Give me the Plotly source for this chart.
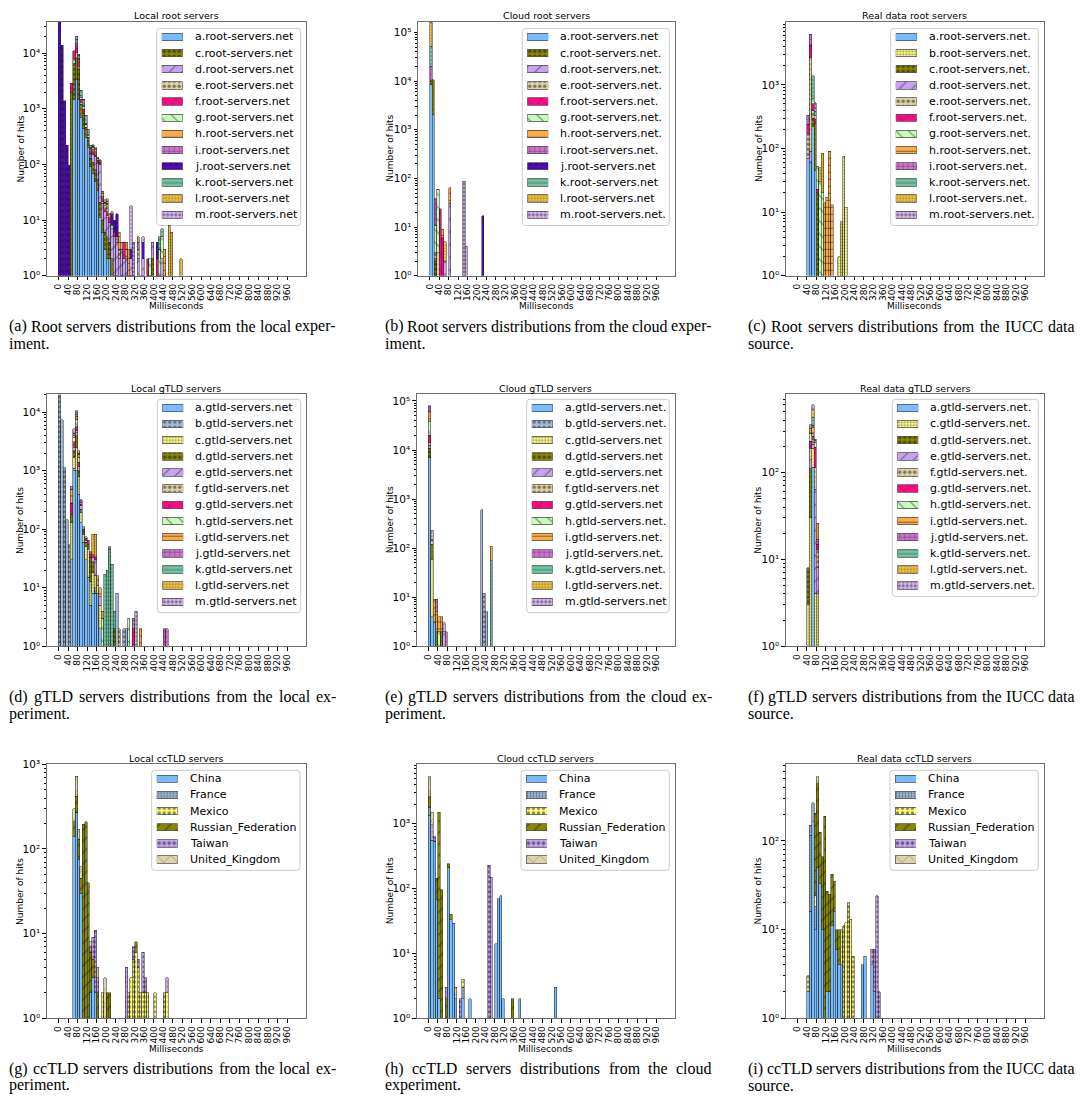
import plotly.graph_objects as go

FIG_W, FIG_H = 1083, 1107
BIN_W = 10
X_TICKS = list(range(0, 1000, 40))
X_RANGE = [-49.5, 1039.5]

# ---------------- data: hits per 10 ms bin (key = bin start in ms) ----------------
# (a) Local root servers
LR_A = {60: 1500, 70: 3300, 80: 1500, 90: 700, 100: 450, 110: 300, 120: 200, 130: 90, 140: 70, 150: 50,
        160: 34, 170: 11, 180: 6, 190: 3, 200: 2, 210: 2}
LR_C = {50: 2000, 60: 5000, 70: 5000, 80: 3500, 90: 500, 100: 300, 110: 100, 120: 60, 130: 40, 140: 40,
        150: 30, 160: 20, 170: 10, 180: 4, 190: 3, 200: 3, 210: 2, 220: 2, 230: 1, 240: 1, 260: 1, 280: 1,
        300: 1, 350: 1, 390: 2, 420: 1}
LR_D = {120: 10, 130: 20, 140: 40, 150: 60, 160: 50, 170: 80, 180: 10, 190: 8, 200: 6, 210: 5, 220: 5,
        230: 4, 240: 3, 250: 2, 260: 2, 270: 2, 280: 1, 300: 1, 330: 2, 350: 1, 370: 1, 390: 2, 410: 1, 430: 2}
LR_E = {60: 1500, 70: 2000, 80: 800, 90: 100, 100: 80, 110: 30, 120: 20, 130: 10, 140: 8, 150: 6, 160: 4,
        170: 3, 180: 2, 200: 1, 220: 1, 250: 1, 290: 1, 330: 1, 380: 1}
LR_F = {50: 900, 60: 3000, 70: 4000, 80: 1500, 90: 200, 100: 150, 110: 40, 120: 20, 130: 15, 140: 20,
        150: 10, 160: 8, 170: 5, 180: 3, 190: 2, 200: 2, 210: 2, 230: 1, 270: 2, 370: 1, 410: 1}
LR_G = {70: 500, 80: 300, 90: 100, 100: 100, 110: 60, 120: 20, 130: 10, 140: 10, 150: 6, 160: 4, 170: 3,
        180: 2, 190: 2, 200: 2, 380: 1, 420: 2, 430: 3, 440: 1}
LR_H = {130: 10, 140: 15, 150: 20, 160: 10, 170: 8, 180: 3, 190: 2, 200: 3, 210: 2, 250: 2, 260: 1, 280: 1,
        290: 1, 310: 1, 440: 2}
LR_I = {70: 2500, 80: 500, 90: 100, 100: 60, 110: 20, 120: 10, 130: 5, 140: 5, 150: 3, 170: 2, 200: 1,
        240: 1, 330: 1}
LR_J = {0: 36000, 10: 14000, 20: 1400, 30: 220, 40: 96, 140: 10, 190: 1, 220: 5, 230: 4, 240: 8, 300: 1,
        340: 1, 350: 2, 410: 2}
LR_K = {80: 1000, 90: 400, 100: 300, 110: 200, 120: 80, 130: 20, 140: 10, 150: 5, 180: 3, 190: 2, 200: 2,
        420: 2, 430: 2}
LR_L = {120: 5, 150: 10, 160: 5, 200: 2, 220: 1, 250: 1, 280: 1, 290: 1, 330: 1, 460: 8, 470: 6, 510: 2}
LR_M = {70: 3000, 80: 400, 90: 50, 100: 30, 110: 10, 300: 15, 310: 3, 350: 1}

# (b) Cloud root servers
CR_A = {0: 8500, 10: 2100}
CR_C = {0: 1500, 10: 8500, 20: 2}
CR_D = {60: 2, 80: 31}
CR_E = {0: 200, 20: 1, 30: 3}
CR_F = {40: 24, 50: 6}
CR_G = {20: 8, 30: 55}
CR_H = {50: 3, 80: 34}
CR_I = {0: 10000, 20: 27, 30: 2}
CR_J = {220: 17}
CR_K = {0: 32000}
CR_L = {0: 110000, 60: 3}
CR_M = {140: 88, 150: 4}

# (c) Real data root servers
RR_A = {40: 70, 50: 60, 60: 220, 70: 45}
RR_B = {170: 2, 180: 7, 190: 75, 200: 12}
RR_C = {60: 80, 70: 200, 80: 20}
RR_D = {50: 30}
RR_E = {40: 100, 50: 2600, 60: 100}
RR_F = {40: 70, 50: 1500, 60: 100, 70: 50, 80: 3}
RR_G = {60: 100, 70: 30, 80: 30, 90: 30, 100: 20}
RR_H = {110: 14, 120: 17, 130: 90, 140: 13}
RR_I = {40: 90, 50: 2000}
RR_K = {60: 800, 70: 50}
RR_L = {90: 20, 100: 64}
RR_M = {70: 150}

# (d) Local gTLD servers
LG_A = {60: 1000, 70: 1000, 80: 400, 90: 130, 100: 60, 110: 30, 120: 15, 130: 5, 140: 8, 150: 8, 160: 8, 170: 2}
LG_B = {0: 20000, 10: 7400, 20: 1130, 30: 145, 40: 54, 50: 30, 60: 100, 150: 2, 180: 1, 240: 8, 270: 2, 280: 2}
LG_C = {50: 100, 60: 600, 70: 1500, 80: 400, 90: 60, 100: 20, 110: 20, 120: 30, 130: 8, 140: 10, 150: 6,
        160: 3, 170: 3}
LG_D = {50: 50, 60: 500, 70: 1500, 80: 200, 90: 30, 100: 10, 110: 10, 120: 10, 130: 20, 140: 10, 230: 2}
LG_E = {60: 300, 70: 500, 80: 200, 90: 30, 110: 5, 140: 5, 150: 15, 170: 2}
LG_F = {60: 200, 70: 300, 250: 2}
LG_G = {50: 100, 60: 400, 70: 800, 80: 200, 90: 20, 100: 5, 110: 5, 120: 10, 130: 5, 140: 4, 150: 3, 310: 2}
LG_H = {60: 600, 70: 2000, 80: 300, 180: 2, 290: 3}
LG_I = {50: 200, 60: 300, 70: 1000, 80: 200, 90: 20, 100: 5, 130: 3, 160: 5, 170: 3, 340: 2}
LG_J = {60: 400, 70: 500, 80: 100, 90: 15, 440: 2, 450: 2}
LG_K = {190: 17, 200: 20, 210: 45, 220: 25, 230: 2}
LG_L = {110: 4, 140: 45, 150: 48, 180: 1}
LG_M = {50: 60, 60: 800, 70: 1400, 80: 200, 90: 15, 100: 10, 210: 5, 310: 1, 320: 4}

# (e) Cloud gTLD servers
CG_A = {0: 7000, 10: 4, 20: 3}
CG_B = {220: 600, 230: 12, 240: 5}
CG_C = {10: 56}
CG_D = {0: 4000, 10: 60, 30: 2, 50: 2}
CG_E = {0: 1500, 60: 2}
CG_F = {0: 1500, 10: 20}
CG_G = {0: 6000, 10: 10}
CG_H = {0: 18000, 40: 2}
CG_I = {0: 23000, 20: 6, 30: 3, 40: 2, 50: 2}
CG_J = {0: 19000, 30: 4, 70: 2}
CG_K = {260: 55}
CG_L = {260: 55}
CG_M = {10: 80, 60: 1}

# (f) Real data gTLD servers
RG_A = {60: 115}
RG_C = {40: 3, 50: 30, 60: 75, 70: 4, 80: 4}
RG_D = {40: 5, 50: 80}
RG_E = {50: 30, 60: 20, 70: 60, 80: 4}
RG_F = {50: 50, 60: 30, 70: 50, 80: 5}
RG_G = {50: 40, 60: 20, 70: 80, 80: 2}
RG_H = {50: 50, 60: 20, 70: 30}
RG_I = {50: 40, 60: 50, 70: 10}
RG_J = {60: 20, 80: 2}
RG_K = {60: 80, 70: 6}
RG_L = {60: 100, 80: 9}
RG_M = {50: 35, 60: 70}

# (g) Local ccTLD servers
LC_CN = {60: 140, 70: 270, 80: 75, 90: 30, 130: 2, 140: 3, 150: 2}
LC_FR = {70: 3}
LC_MX = {180: 2, 190: 1, 290: 2, 300: 3, 310: 5, 320: 6, 330: 4, 340: 2, 350: 2, 360: 2, 370: 2, 400: 2,
         440: 2, 450: 2}
LC_RU = {60: 70, 70: 145, 80: 55, 90: 15, 100: 195, 110: 210, 120: 40, 130: 4, 140: 2, 160: 2, 200: 2,
         210: 2, 320: 2}
LC_TW = {130: 1, 140: 4, 150: 9, 160: 1, 280: 4, 310: 2, 330: 1, 350: 4, 360: 1, 450: 1}
LC_UK = {60: 90, 70: 305, 80: 40, 90: 17, 130: 1, 160: 1, 190: 2}

# (h) Cloud ccTLD servers
CC_CN = {0: 1350, 10: 560, 20: 540, 30: 68, 40: 2, 80: 210, 90: 33, 100: 29, 110: 2, 130: 1, 140: 2, 170: 2,
         280: 14, 290: 70, 300: 78, 310: 2, 380: 2, 530: 3}
CC_FR = {0: 450, 140: 1}
CC_MX = {140: 1}
CC_RU = {0: 800, 30: 77, 40: 1500, 50: 95, 70: 2, 80: 30, 90: 7, 350: 2}
CC_TW = {10: 400, 20: 90, 70: 1, 130: 1, 250: 230, 260: 150}
CC_UK = {0: 2700, 10: 540, 110: 1}

# (i) Real data ccTLD servers
RC_CN = {40: 2, 50: 16, 60: 165, 70: 10, 80: 50, 90: 33, 100: 10, 120: 2, 130: 2, 140: 11, 150: 16, 160: 6,
         170: 4, 180: 4, 270: 4, 280: 5, 310: 4, 320: 2}
RC_FR = {50: 100, 60: 105, 70: 8}
RC_MX = {40: 1, 70: 6, 180: 6, 190: 11, 200: 12, 210: 20, 220: 13, 230: 5}
RC_RU = {70: 180, 80: 390, 90: 92, 100: 56, 110: 190, 120: 25, 130: 23, 140: 31, 150: 19, 160: 4, 170: 6}
RC_TW = {50: 34, 310: 2, 320: 4, 330: 24, 340: 2}
RC_UK = {80: 90}

# ---------------- styles ----------------
STYLES = {
    'sky':       dict(color='#75bbfd', shape='',   size=6,  sol=0.3),
    'grayblue':  dict(color='#a3b9d6', shape='.',  size=5,  sol=0.25),
    'grayblue2': dict(color='#a3b9d6', shape='.',  size=3,  sol=0.3),
    'paleyel':   dict(color='#fcfc88', shape='.',  size=3,  sol=0.3),
    'mexico':    dict(color='#fdfb7c', shape='.',  size=5,  sol=0.35),
    'olive_o':   dict(color='#878700', shape='.',  size=5,  sol=0.4),
    'olive_sl':  dict(color='#878700', shape='/',  size=8,  sol=0.15),
    'lav_sl':    dict(color='#c6a2f2', shape='/',  size=9,  sol=0.12),
    'lav_star':  dict(color='#c6a2f2', shape='.',  size=5,  sol=0.4),
    'tan_star':  dict(color='#e2d5a5', shape='.',  size=5,  sol=0.4),
    'tan_x':     dict(color='#e2d5a5', shape='x',  size=10, sol=0.1),
    'pink_x':    dict(color='#ff0a84', shape='x',  size=10, sol=0.1),
    'green_bs':  dict(color='#c8fbbb', shape='\\', size=9,  sol=0.12),
    'orange_h':  dict(color='#fdaa48', shape='-',  size=7,  sol=0.15),
    'orchid_p':  dict(color='#d071cf', shape='+',  size=5,  sol=0.2),
    'indigo_d':  dict(color='#5308c8', shape='.',  size=6,  sol=0.3),
    'seafoam_h': dict(color='#6fc7a2', shape='-',  size=4,  sol=0.2),
    'gold_p':    dict(color='#f6c343', shape='+',  size=3,  sol=0.25),
    'violet_o':  dict(color='#dcbaf7', shape='.',  size=4,  sol=0.45),
}

CC_STYLES = ['sky', 'grayblue2', 'mexico', 'olive_sl', 'lav_star', 'tan_x']
CC_LABELS = ['China', 'France', 'Mexico', 'Russian_Federation', 'Taiwan', 'United_Kingdom']

CAP_X = [7, 383, 746]      # caption left edge per column (px)
CAP_W = 327                # justified caption width (px)
CAP_FS = 16

PANELS = [
    dict(title='Local root servers', plot=(46.7, 16, 306, 272.7), ytop=4.563, leg=(156.7, 22.7, 300.7),
         ylab=20.7, xlab=True, col=0,
         cap=('(a) Root servers distributions from the local exper-', 'iment.'),
         series=[('a.root-servers.net', LR_A, 'sky'), ('c.root-servers.net', LR_C, 'olive_o'),
                 ('d.root-servers.net', LR_D, 'lav_sl'), ('e.root-servers.net', LR_E, 'tan_star'),
                 ('f.root-servers.net', LR_F, 'pink_x'), ('g.root-servers.net', LR_G, 'green_bs'),
                 ('h.root-servers.net', LR_H, 'orange_h'), ('i.root-servers.net', LR_I, 'orchid_p'),
                 ('j.root-servers.net', LR_J, 'indigo_d'), ('k.root-servers.net', LR_K, 'seafoam_h'),
                 ('l.root-servers.net', LR_L, 'gold_p'), ('m.root-servers.net', LR_M, 'violet_o')]),
    dict(title='Cloud root servers', plot=(418, 16, 675, 272.7), ytop=5.217, leg=(522.3, 22.7, 669.3),
         ylab=390, xlab=True, col=1,
         cap=('(b) Root servers distributions from the cloud exper-', 'iment.'),
         series=[('a.root-servers.net', CR_A, 'sky'), ('c.root-servers.net.', CR_C, 'olive_o'),
                 ('d.root-servers.net.', CR_D, 'lav_sl'), ('e.root-servers.net.', CR_E, 'tan_star'),
                 ('f.root-servers.net.', CR_F, 'pink_x'), ('g.root-servers.net.', CR_G, 'green_bs'),
                 ('h.root-servers.net.', CR_H, 'orange_h'), ('i.root-servers.net.', CR_I, 'orchid_p'),
                 ('j.root-servers.net', CR_J, 'indigo_d'), ('k.root-servers.net', CR_K, 'seafoam_h'),
                 ('l.root-servers.net', CR_L, 'gold_p'), ('m.root-servers.net.', CR_M, 'violet_o')]),
    dict(title='Real data root servers', plot=(785.7, 16, 1044, 272.7), ytop=3.99, leg=(890.7, 22.7, 1038.3),
         ylab=758.3, xlab=True, col=2,
         cap=('(c) Root servers distributions from the IUCC data', 'source.'),
         series=[('a.root-servers.net.', RR_A, 'sky'), ('b.root-servers.net.', RR_B, 'paleyel'),
                 ('c.root-servers.net.', RR_C, 'olive_o'), ('d.root-servers.net.', RR_D, 'lav_sl'),
                 ('e.root-servers.net.', RR_E, 'tan_star'), ('f.root-servers.net.', RR_F, 'pink_x'),
                 ('g.root-servers.net.', RR_G, 'green_bs'), ('h.root-servers.net.', RR_H, 'orange_h'),
                 ('i.root-servers.net.', RR_I, 'orchid_p'), ('k.root-servers.net.', RR_K, 'seafoam_h'),
                 ('l.root-servers.net.', RR_L, 'gold_p'), ('m.root-servers.net.', RR_M, 'violet_o')]),
    dict(title='Local gTLD servers', plot=(46.7, 392.7, 306, 647.3), ytop=4.304, leg=(157.3, 397.7, 300.7),
         ylab=20.7, xlab=False, col=0,
         cap=('(d) gTLD servers distributions from the local ex-', 'periment.'),
         series=[('a.gtld-servers.net', LG_A, 'sky'), ('b.gtld-servers.net', LG_B, 'grayblue'),
                 ('c.gtld-servers.net', LG_C, 'paleyel'), ('d.gtld-servers.net', LG_D, 'olive_o'),
                 ('e.gtld-servers.net', LG_E, 'lav_sl'), ('f.gtld-servers.net', LG_F, 'tan_star'),
                 ('g.gtld-servers.net', LG_G, 'pink_x'), ('h.gtld-servers.net', LG_H, 'green_bs'),
                 ('i.gtld-servers.net', LG_I, 'orange_h'), ('j.gtld-servers.net', LG_J, 'orchid_p'),
                 ('k.gtld-servers.net', LG_K, 'seafoam_h'), ('l.gtld-servers.net', LG_L, 'gold_p'),
                 ('m.gtld-servers.net', LG_M, 'violet_o')]),
    dict(title='Cloud gTLD servers', plot=(416.7, 392.7, 675, 647.3), ytop=5.133, leg=(526.7, 397.7, 669.3),
         ylab=390, xlab=False, col=1,
         cap=('(e) gTLD servers distributions from the cloud ex-', 'periment.'),
         series=[('a.gtld-servers.net.', CG_A, 'sky'), ('b.gtld-servers.net.', CG_B, 'grayblue'),
                 ('c.gtld-servers.net', CG_C, 'paleyel'), ('d.gtld-servers.net', CG_D, 'olive_o'),
                 ('e.gtld-servers.net', CG_E, 'lav_sl'), ('f.gtld-servers.net', CG_F, 'tan_star'),
                 ('g.gtld-servers.net', CG_G, 'pink_x'), ('h.gtld-servers.net.', CG_H, 'green_bs'),
                 ('i.gtld-servers.net.', CG_I, 'orange_h'), ('j.gtld-servers.net.', CG_J, 'orchid_p'),
                 ('k.gtld-servers.net.', CG_K, 'seafoam_h'), ('l.gtld-servers.net.', CG_L, 'gold_p'),
                 ('m.gtld-servers.net', CG_M, 'violet_o')]),
    dict(title='Real data gTLD servers', plot=(785.7, 392.7, 1044, 647.3), ytop=2.898, leg=(892.3, 397.7, 1038.3),
         ylab=758.3, xlab=False, col=2,
         cap=('(f) gTLD servers distributions from the IUCC data', 'source.'),
         series=[('a.gtld-servers.net.', RG_A, 'sky'), ('c.gtld-servers.net.', RG_C, 'paleyel'),
                 ('d.gtld-servers.net.', RG_D, 'olive_o'), ('e.gtld-servers.net.', RG_E, 'lav_sl'),
                 ('f.gtld-servers.net.', RG_F, 'tan_star'), ('g.gtld-servers.net.', RG_G, 'pink_x'),
                 ('h.gtld-servers.net.', RG_H, 'green_bs'), ('i.gtld-servers.net.', RG_I, 'orange_h'),
                 ('j.gtld-servers.net.', RG_J, 'orchid_p'), ('k.gtld-servers.net.', RG_K, 'seafoam_h'),
                 ('l.gtld-servers.net.', RG_L, 'gold_p'), ('m.gtld-servers.net.', RG_M, 'violet_o')]),
    dict(title='Local ccTLD servers', plot=(46.7, 766.7, 306, 1023.3), ytop=3.0, leg=(151.7, 772.7, 300),
         ylab=20.7, xlab=True, col=0,
         cap=('(g) ccTLD servers distributions from the local ex-', 'periment.'),
         series=list(zip(CC_LABELS, [LC_CN, LC_FR, LC_MX, LC_RU, LC_TW, LC_UK], CC_STYLES))),
    dict(title='Cloud ccTLD servers', plot=(416.7, 766.7, 675, 1023.3), ytop=3.915, leg=(521, 772.7, 669.3),
         ylab=390, xlab=True, col=1,
         cap=('(h) ccTLD servers distributions from the cloud', 'experiment.'),
         series=list(zip(CC_LABELS, [CC_CN, CC_FR, CC_MX, CC_RU, CC_TW, CC_UK], CC_STYLES))),
    dict(title='Real data ccTLD servers', plot=(785.7, 766.7, 1044, 1023.3), ytop=2.863, leg=(890, 772.7, 1038.3),
         ylab=758.3, xlab=True, col=2,
         cap=('(i) ccTLD servers distributions from the IUCC data', 'source.'),
         series=list(zip(CC_LABELS, [RC_CN, RC_FR, RC_MX, RC_RU, RC_TW, RC_UK], CC_STYLES))),
]

PITCH = 16.35
FRAME = '#6e6e6e'
SUP = {'0': '\u2070', '1': '\u00b9', '2': '\u00b2', '3': '\u00b3', '4': '\u2074', '5': '\u2075'}

# Times / Liberation Serif advance widths (1/1000 em) for caption justification
TIMES_W = {' ': 250, '(': 333, ')': 333, '-': 333, '.': 250, 'a': 444, 'b': 500, 'c': 444, 'd': 500,
           'e': 444, 'f': 333, 'g': 500, 'h': 500, 'i': 278, 'j': 278, 'k': 500, 'l': 278, 'm': 778,
           'n': 500, 'o': 500, 'p': 500, 'q': 500, 'r': 333, 's': 389, 't': 278, 'u': 500, 'v': 500,
           'w': 722, 'x': 500, 'y': 500, 'z': 444, 'C': 667, 'D': 722, 'I': 333, 'L': 611, 'R': 667,
           'T': 611, 'U': 722}


def text_w(s, fs):
    return sum(TIMES_W.get(ch, 500) for ch in s) * fs / 1000.0


def px(v):
    return v / FIG_W


def py(v):
    return 1 - v / FIG_H


def aname(kind, i):
    return kind + ('axis' if i == 1 else f'axis{i}')


def aref(kind, i):
    return kind if i == 1 else f'{kind}{i}'


def marker_for(st, edge='#222222', ew=0.5):
    return dict(color=st['color'], line=dict(color=edge, width=ew),
                pattern=dict(shape=st['shape'], fgcolor='#111111', size=st['size'], solidity=st['sol']))


fig = go.Figure()
layout = dict(width=FIG_W, height=FIG_H, margin=dict(l=0, r=0, t=0, b=0, pad=0),
              paper_bgcolor='white', plot_bgcolor='rgba(0,0,0,0)', barmode='stack',
              showlegend=False, hovermode=False,
              font=dict(family='DejaVu Sans', color='black'))
annotations, shapes = [], []

for k, P in enumerate(PANELS):
    main, leg = 2 * k + 1, 2 * k + 2
    x0, y0, x1, y1 = P['plot']
    ytop = P['ytop']
    ndec = int(ytop + 1e-9)
    minor_vals = [m * 10 ** d for d in range(0, ndec + 1) for m in range(2, 10) if m * 10 ** d < 10 ** ytop]

    layout[aname('x', main)] = dict(domain=[px(x0), px(x1)], anchor=aref('y', main), range=X_RANGE,
                                   tickmode='array', tickvals=X_TICKS, tickangle=-90,
                                   tickfont=dict(size=9, color='black'), ticks='outside', ticklen=3.5,
                                   tickwidth=0.8, tickcolor='black',
                                   showgrid=False, zeroline=False,
                                   showline=True, mirror=True, linecolor=FRAME, linewidth=1, fixedrange=True)
    layout[aname('y', main)] = dict(domain=[py(y1), py(y0)], anchor=aref('x', main), type='log',
                                   range=[0, ytop], tickmode='array',
                                   tickvals=[10 ** d for d in range(0, ndec + 1)],
                                   ticktext=['10' + SUP[str(d)] for d in range(0, ndec + 1)],
                                   tickfont=dict(size=10.5, color='black'), ticks='outside', ticklen=3.5,
                                   tickwidth=0.8, tickcolor='black',
                                   minor=dict(tickmode='array', tickvals=minor_vals, ticks='outside',
                                              ticklen=2, tickwidth=0.6, tickcolor='black', showgrid=False),
                                   showgrid=False, zeroline=False, showline=True, mirror=True,
                                   linecolor=FRAME, linewidth=1, fixedrange=True)

    # stacked histogram bars
    for label, data, sk in P['series']:
        st = STYLES[sk]
        bins = sorted(data)
        fig.add_trace(go.Bar(x=[b + BIN_W / 2 for b in bins], y=[data[b] for b in bins], width=BIN_W,
                             marker=marker_for(st), name=label, xaxis=aref('x', main),
                             yaxis=aref('y', main), showlegend=False, hoverinfo='skip'))

    # legend (swatches drawn as bars on a hidden axis pair)
    lx0, ly0, lx1 = P['leg']
    n = len(P['series'])
    c0 = ly0 + 8.5
    ly1 = ly0 + n * PITCH + 3
    r = 3
    rx, ry = r / FIG_W, r / FIG_H
    X0, X1, YT, YB = px(lx0), px(lx1), py(ly0), py(ly1)
    path = (f'M{X0 + rx},{YT} L{X1 - rx},{YT} Q{X1},{YT} {X1},{YT - ry} L{X1},{YB + ry} '
            f'Q{X1},{YB} {X1 - rx},{YB} L{X0 + rx},{YB} Q{X0},{YB} {X0},{YB + ry} '
            f'L{X0},{YT - ry} Q{X0},{YT} {X0 + rx},{YT} Z')
    shapes.append(dict(type='path', path=path, xref='paper', yref='paper',
                       line=dict(color='#cccccc', width=1), fillcolor='rgba(255,255,255,0.85)',
                       layer='below'))
    layout[aname('x', leg)] = dict(domain=[px(lx0 + 5), px(lx0 + 26)], anchor=aref('y', leg), range=[0, 1],
                                  visible=False, fixedrange=True)
    layout[aname('y', leg)] = dict(domain=[py(c0 + (n - 0.5) * PITCH), py(c0 - 0.5 * PITCH)],
                                  anchor=aref('x', leg), range=[n - 0.5, -0.5], visible=False,
                                  fixedrange=True)
    for i, (label, data, sk) in enumerate(P['series']):
        st = STYLES[sk]
        fig.add_trace(go.Bar(y=[i], x=[1], orientation='h', width=7.5 / PITCH,
                             marker=marker_for(st, edge='#555555', ew=0.8),
                             xaxis=aref('x', leg), yaxis=aref('y', leg), showlegend=False,
                             hoverinfo='skip'))
        annotations.append(dict(text=label, x=px(lx0 + 36), y=py(c0 + i * PITCH), xref='paper',
                                yref='paper', xanchor='left', yanchor='middle', showarrow=False,
                                font=dict(size=11, color='black', family='DejaVu Sans')))

    # title, axis labels
    cx = (x0 + x1) / 2
    annotations.append(dict(text=P['title'], x=px(cx), y=py(y0 - 6), xref='paper', yref='paper',
                            xanchor='center', yanchor='middle', showarrow=False,
                            font=dict(size=9.5, color='black')))
    annotations.append(dict(text='Number of hits', x=px(P['ylab']), y=py((y0 + y1) / 2), xref='paper',
                            yref='paper', xanchor='center', yanchor='middle', textangle=-90,
                            showarrow=False, font=dict(size=9, color='black')))
    if P['xlab']:
        annotations.append(dict(text='Milliseconds', x=px(cx), y=py(y1 + 31), xref='paper', yref='paper',
                                xanchor='center', yanchor='middle', showarrow=False,
                                font=dict(size=9, color='black')))

    # caption: first line justified word by word, second line left aligned
    capx = CAP_X[P['col']]
    words = P['cap'][0].split(' ')
    natural = sum(text_w(w, CAP_FS) for w in words)
    gap = (CAP_W - natural) / (len(words) - 1)
    xcur = capx
    for w in words:
        annotations.append(dict(text=w, x=px(xcur), y=py(y1 + 51), xref='paper', yref='paper',
                                xanchor='left', yanchor='middle', showarrow=False,
                                font=dict(size=CAP_FS, color='black', family='Liberation Serif')))
        xcur += text_w(w, CAP_FS) + gap
    annotations.append(dict(text=P['cap'][1], x=px(capx), y=py(y1 + 68), xref='paper', yref='paper',
                            xanchor='left', yanchor='middle', showarrow=False,
                            font=dict(size=CAP_FS, color='black', family='Liberation Serif')))

layout['annotations'] = annotations
layout['shapes'] = shapes
fig.update_layout(**layout)
fig.write_html('out.html')
